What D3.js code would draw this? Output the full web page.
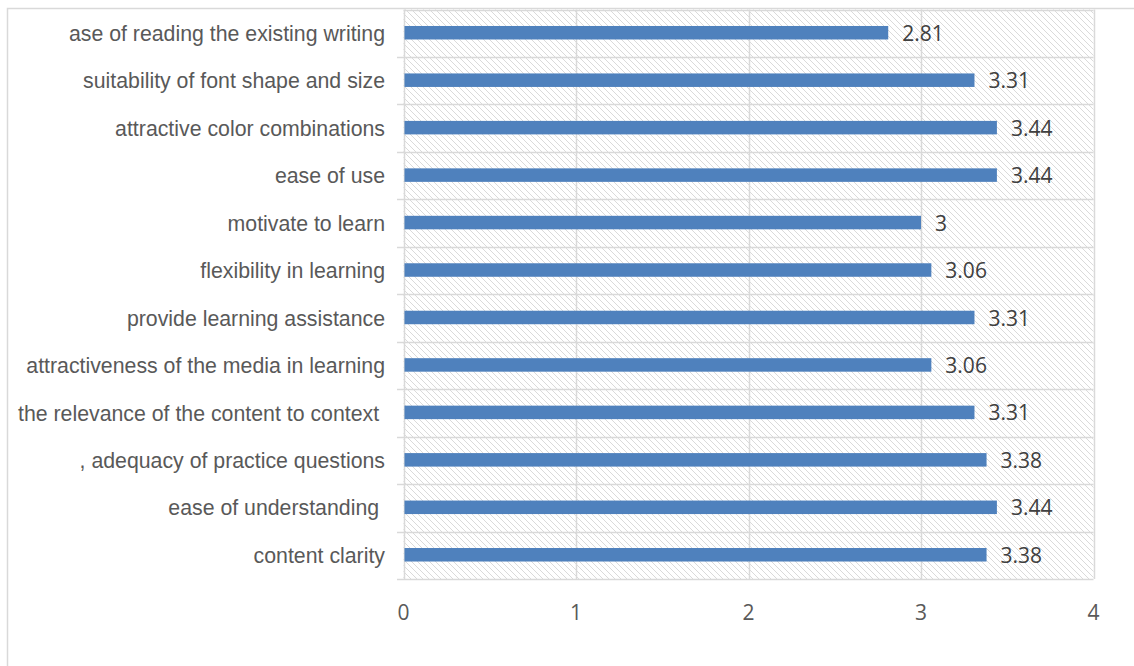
<!DOCTYPE html>
<html>
<head>
<meta charset="utf-8">
<script src="https://cdn.jsdelivr.net/npm/d3@7/dist/d3.min.js"></script>
<style>
  html, body { margin: 0; padding: 0; background: #fff; }
  svg { display: block; }
</style>
</head>
<body>
<svg id="chart" width="1134" height="666"></svg>
<script>
const categories = [
  "ase of reading the existing writing",
  "suitability of font shape and size",
  "attractive color combinations",
  "ease of use",
  "motivate to learn",
  "flexibility in learning",
  "provide learning assistance",
  "attractiveness of the media in learning",
  "the relevance of the content to context\u00a0",
  ", adequacy of practice questions",
  "ease of understanding\u00a0",
  "content clarity"
];
const values = [2.81, 3.31, 3.44, 3.44, 3, 3.06, 3.31, 3.06, 3.31, 3.38, 3.44, 3.38];
const valueLabels = ["2.81", "3.31", "3.44", "3.44", "3", "3.06", "3.31", "3.06", "3.31", "3.38", "3.44", "3.38"];
const xTicks = [0, 1, 2, 3, 4];

const svg = d3.select("#chart");
const W = 1134, H = 666;
const plot = { left: 403.5, right: 1093.5, top: 9.5, bottom: 579 };

// outer frame
svg.append("rect")
  .attr("x", 7.5).attr("y", 8.5)
  .attr("width", W + 20).attr("height", H + 20)
  .attr("fill", "none").attr("stroke", "#d9d9d9").attr("stroke-width", 1.5);

// hatch pattern
const defs = svg.append("defs");
const pat = defs.append("pattern")
  .attr("id", "hatch").attr("patternUnits", "userSpaceOnUse")
  .attr("width", 6).attr("height", 6);
pat.append("rect").attr("width", 6).attr("height", 6).attr("fill", "#ffffff");
pat.append("path").attr("d", "M-1,-1 L7,7 M-1,5 L1,7 M5,-1 L7,1")
  .attr("stroke", "#dadada").attr("stroke-width", 1);

const x = d3.scaleLinear().domain([0, 4]).range([plot.left, plot.right]);
const y = d3.scaleBand().domain(categories).range([plot.top, plot.bottom]).paddingInner(0).paddingOuter(0);

svg.append("rect")
  .attr("x", plot.left).attr("y", plot.top)
  .attr("width", plot.right - plot.left).attr("height", plot.bottom - plot.top)
  .attr("fill", "url(#hatch)");

// vertical gridlines
svg.append("g").selectAll("line").data(xTicks).join("line")
  .attr("x1", d => Math.round(x(d)) + 0.5).attr("x2", d => Math.round(x(d)) + 0.5)
  .attr("y1", plot.top).attr("y2", plot.bottom)
  .attr("stroke", "#d9d9d9").attr("stroke-width", 1.5);

// horizontal category boundaries with ticks
const bounds = categories.map(c => y(c)).concat([plot.bottom]);
svg.append("g").selectAll("line").data(bounds).join("line")
  .attr("x1", (d, i) => i === 0 ? plot.left : 397).attr("x2", plot.right)
  .attr("y1", d => Math.round(d) + 0.5).attr("y2", d => Math.round(d) + 0.5)
  .attr("stroke", "#d9d9d9").attr("stroke-width", 1.5);

// bars
const barH = 13.5;
svg.append("g").selectAll("rect").data(values).join("rect")
  .attr("x", x(0) + 1)
  .attr("y", (d, i) => y(categories[i]) + y.bandwidth() / 2 - barH / 2 - 0.5)
  .attr("width", d => x(d) - x(0) - 1)
  .attr("height", barH)
  .attr("fill", "#4f81bd");

// value labels
svg.append("g").selectAll("text").data(values).join("text")
  .attr("x", d => x(d) + 14)
  .attr("y", (d, i) => y(categories[i]) + y.bandwidth() / 2)
  .attr("dy", "0.36em")
  .attr("font-family", "'Open Sans', sans-serif")
  .attr("font-size", 21)
  .attr("fill", "#404040")
  .text((d, i) => valueLabels[i]);

// category labels
svg.append("g").selectAll("text").data(categories).join("text")
  .attr("x", 385)
  .attr("y", d => y(d) + y.bandwidth() / 2)
  .attr("dy", "0.36em")
  .attr("text-anchor", "end")
  .attr("font-family", "'Liberation Sans', Arial, sans-serif")
  .attr("font-size", 21.3)
  .attr("fill", "#595959")
  .text(d => d);

// x tick labels
svg.append("g").selectAll("text").data(xTicks).join("text")
  .attr("x", d => x(d))
  .attr("y", 612)
  .attr("dy", "0.36em")
  .attr("text-anchor", "middle")
  .attr("font-family", "'Open Sans', sans-serif")
  .attr("font-size", 21)
  .attr("fill", "#595959")
  .text(d => d);
</script>
</body>
</html>
